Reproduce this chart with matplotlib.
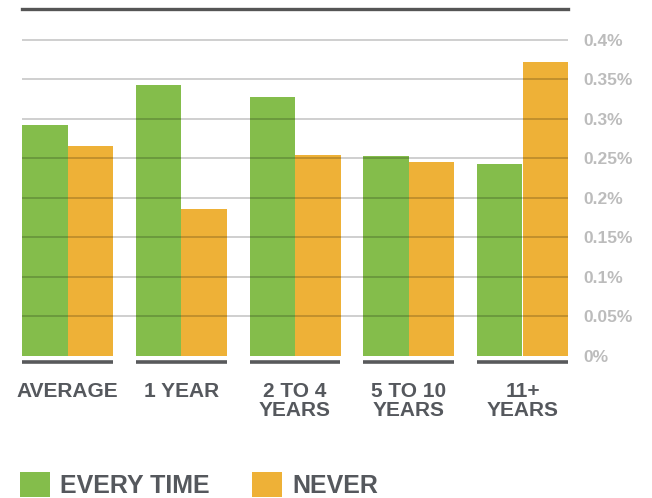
import numpy as np
import matplotlib.pyplot as plt

categories = ["AVERAGE", "1 YEAR", "2 TO 4\nYEARS", "5 TO 10\nYEARS", "11+\nYEARS"]
every_time = [0.292, 0.343, 0.328, 0.253, 0.243]
never = [0.266, 0.186, 0.254, 0.245, 0.372]
yticks = [0, 0.05, 0.1, 0.15, 0.2, 0.25, 0.3, 0.35, 0.4]
ytick_labels = ["0%", "0.05%", "0.1%", "0.15%", "0.2%", "0.25%", "0.3%", "0.35%", "0.4%"]

GREEN = "#84bd4b"
ORANGE = "#eeb137"
DARK = "#55585d"
LIGHT = "#bcbcbc"

plt.rcParams["font.family"] = ["Liberation Sans", "DejaVu Sans"]

W, H = 652, 498
fig = plt.figure(figsize=(W / 100, H / 100), dpi=100)
ax = fig.add_axes([22 / W, (H - 355.5) / H, (568 - 22) / W, (355.5 - 9) / H])

x = np.arange(len(categories))
bw = 0.4
b1 = ax.bar(x - bw / 2, every_time, bw, color=GREEN, zorder=2, label="EVERY TIME")
b2 = ax.bar(x + bw / 2, never, bw, color=ORANGE, zorder=2, label="NEVER")

# gridlines sit on top of the bars
for yv in yticks[1:]:
    ax.axhline(yv, color="black", alpha=0.22, lw=1.2, zorder=3)

ax.set_xlim(-0.4, len(categories) - 0.6)
ax.set_ylim(0, 0.4393)

for s in ["left", "right", "bottom"]:
    ax.spines[s].set_visible(False)
ax.spines["top"].set_color("#555555")
ax.spines["top"].set_linewidth(2.4)

ax.yaxis.tick_right()
ax.set_yticks(yticks)
ax.set_yticklabels(ytick_labels, fontsize=12.5, fontweight="bold", color=LIGHT)
ax.tick_params(axis="y", length=0, pad=11)
ax.set_xticks([])

# underline + label per group
for i, lab in enumerate(categories):
    ax.plot([i - 0.4, i + 0.4], [-0.0085, -0.0085], color="#58595b", lw=2.6,
            clip_on=False, solid_capstyle="butt")
    ax.text(i, -0.033, lab, ha="center", va="top", fontsize=15, fontweight="bold",
            color=DARK, linespacing=1.0, clip_on=False)

fig.legend(handles=[b1, b2], loc="lower left", bbox_to_anchor=(20 / W, 0.0),
           ncol=2, frameon=False, borderaxespad=0, borderpad=0,
           handlelength=1.2, handleheight=1.12, handletextpad=0.4,
           columnspacing=1.7, prop={"size": 18, "weight": "bold"},
           labelcolor=DARK)

fig.savefig("out.png", dpi=100)
